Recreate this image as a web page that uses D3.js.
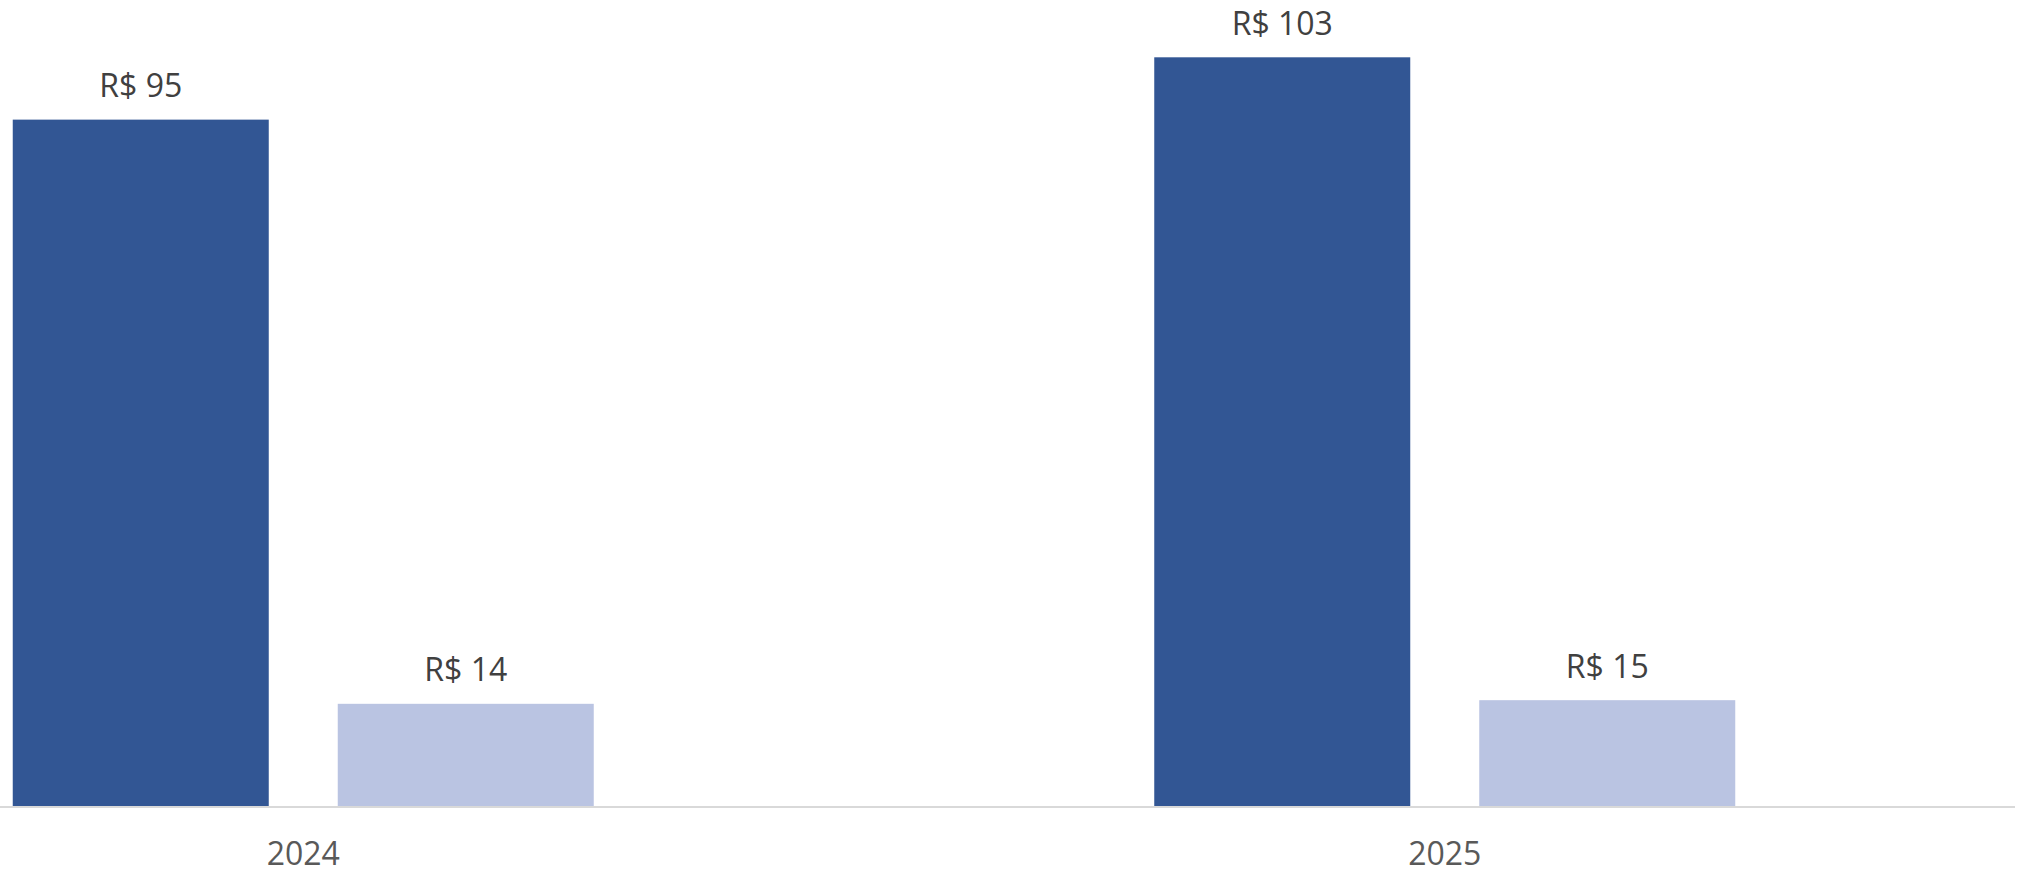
<!DOCTYPE html>
<html><head><meta charset="utf-8">
<script src="https://cdn.jsdelivr.net/npm/d3@7"></script>
<style>html,body{margin:0;padding:0;background:#fff;overflow:hidden}</style>
</head><body>
<svg id="c" width="2021" height="872"></svg>
<script>
const categories = ["2024", "2025"];
const seriesNames = ["A", "B"];
const seriesA = [94.7, 103.3];
const seriesB = [14.1, 14.6];
const colors = ["#325694", "#BAC4E2"];

const svg = d3.select("#c");
const baseY = 806;
const x0 = d3.scaleBand().domain(categories).range([-267.5, 2015.5]).paddingInner(0).paddingOuter(0);
const bw = x0.bandwidth();
const groupW = 581;
const x1 = d3.scaleBand().domain(seriesNames).range([(bw - groupW) / 2, (bw + groupW) / 2]).paddingInner(69 / 325).paddingOuter(0);
const y = d3.scaleLinear().domain([0, 103.3]).range([baseY, 57.3]);

const data = [];
categories.forEach((c, i) => {
  data.push({cat: c, s: "A", v: seriesA[i], col: colors[0]});
  data.push({cat: c, s: "B", v: seriesB[i], col: colors[1]});
});

svg.selectAll("rect.bar").data(data).join("rect")
  .attr("class", "bar")
  .attr("x", d => x0(d.cat) + x1(d.s))
  .attr("width", x1.bandwidth())
  .attr("y", d => y(d.v))
  .attr("height", d => baseY - y(d.v))
  .attr("fill", d => d.col);

svg.selectAll("text.val").data(data).join("text")
  .attr("class", "val")
  .attr("x", d => x0(d.cat) + x1(d.s) + x1.bandwidth() / 2)
  .attr("y", d => y(d.v) - 22.5)
  .attr("text-anchor", "middle")
  .attr("font-family", "Open Sans")
  .attr("font-size", 32)
  .attr("fill", "#404040")
  .text(d => "R$ " + Math.round(d.v));

// axis
const ax = svg.append("g").attr("transform", `translate(0,${baseY + 1})`)
  .call(d3.axisBottom(x0).tickSize(0).tickPadding(0));
ax.select(".domain").attr("d", "M0,0H2015").attr("stroke", "#d9d9d9").attr("stroke-width", 2);
ax.selectAll("text").attr("dy", null).attr("y", 58)
  .attr("font-family", "Open Sans").attr("font-size", 32).attr("fill", "#595959");
</script>
</body></html>
